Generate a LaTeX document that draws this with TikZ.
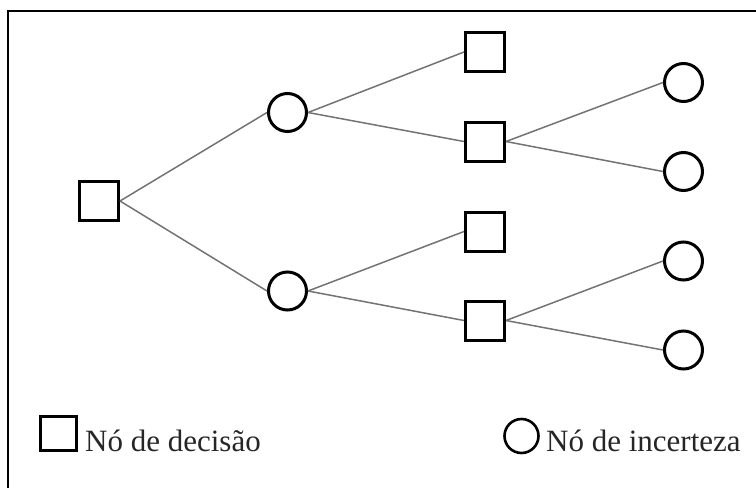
\documentclass[tikz,border=0pt]{standalone}
\usepackage{fontspec}
\setmainfont{Liberation Serif}
\begin{document}
\begin{tikzpicture}[x=1pt,y=-1pt,
  dec/.style={draw=black,line width=3pt,minimum size=39pt,inner sep=0pt,rectangle},
  unc/.style={draw=black,line width=3pt,minimum size=38pt,inner sep=0pt,circle},
  edge/.style={draw=black!55,line width=1.5pt},
  lab/.style={font=\fontsize{31}{31}\selectfont,inner sep=0pt,anchor=base west,text=black!85}]
\useasboundingbox (0,0) rectangle (756,488);
\draw[line width=2pt] (8,488) -- (8,11) -- (756,11);
\node[dec] (r) at (99,201) {};
\node[unc] (c1) at (287.5,112.5) {};
\node[unc] (c2) at (287.5,291) {};
\node[dec] (s1) at (485,52) {};
\node[dec] (s2) at (485,141.5) {};
\node[dec] (s3) at (485,231.5) {};
\node[dec] (s4) at (485,320.5) {};
\node[unc] (e1) at (683.5,82.5) {};
\node[unc] (e2) at (683.5,171.5) {};
\node[unc] (e3) at (683.5,261) {};
\node[unc] (e4) at (683.5,350) {};
\draw[edge] (r.east) -- (c1.west);
\draw[edge] (r.east) -- (c2.west);
\draw[edge] (c1.east) -- (s1.west);
\draw[edge] (c1.east) -- (s2.west);
\draw[edge] (c2.east) -- (s3.west);
\draw[edge] (c2.east) -- (s4.west);
\draw[edge] (s2.east) -- (e1.west);
\draw[edge] (s2.east) -- (e2.west);
\draw[edge] (s4.east) -- (e3.west);
\draw[edge] (s4.east) -- (e4.west);
\node[draw=black,line width=2.8pt,minimum width=36pt,minimum height=34pt,inner sep=0pt] (ld) at (58.5,433.5) {};
\node[lab] (ldt) at (85,451) {Nó de decisão};
\node[draw=black,line width=2.6pt,circle,minimum size=34pt,inner sep=0pt] (lu) at (521.5,436) {};
\node[lab] (lut) at (546,451) {Nó de incerteza};
\end{tikzpicture}
\end{document}
